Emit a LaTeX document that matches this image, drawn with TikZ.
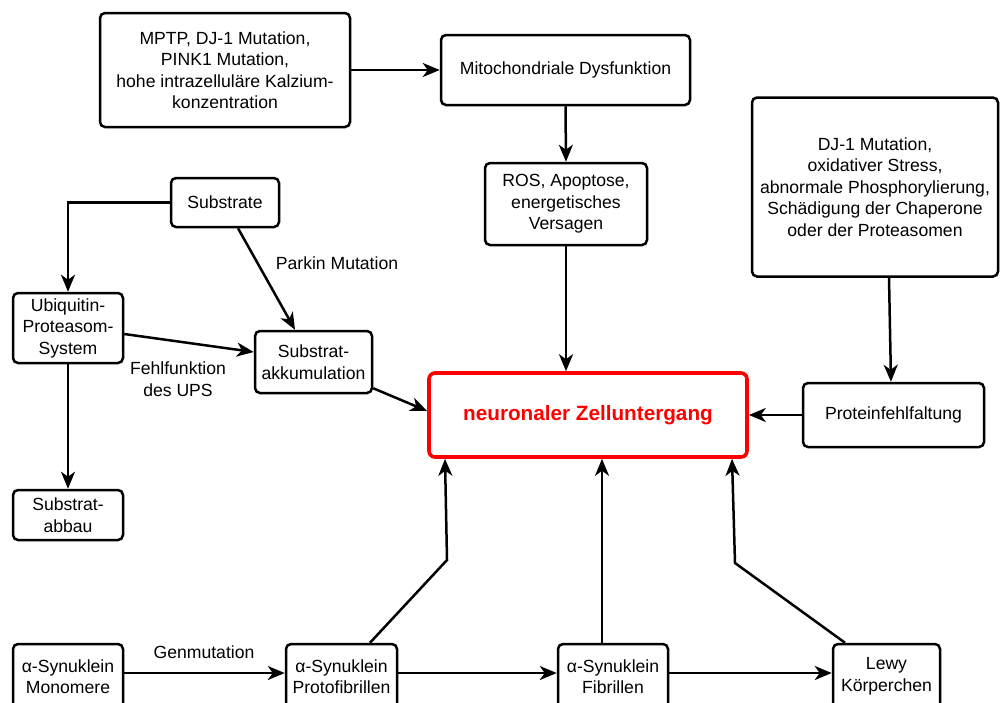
\documentclass[tikz,border=0pt]{standalone}
\usepackage{fontspec}
\setmainfont{Liberation Sans}
\usetikzlibrary{arrows.meta}
\begin{document}
\begin{tikzpicture}[x=1pt,y=-1pt,
  box/.style={draw=black, line width=2.5pt, rounded corners=5pt, fill=white,
    align=center, inner sep=0pt, font=\fontsize{17.6}{21.5}\selectfont},
  mainbox/.style={draw=red, line width=3.6pt, rounded corners=6pt, fill=white,
    align=center, inner sep=0pt, text=red, font=\fontsize{20.7}{24}\selectfont\bfseries},
  lbl/.style={align=center, inner sep=0pt, font=\fontsize{17.6}{21.5}\selectfont},
  conn/.style={line width=2.5pt, -{Stealth[length=17pt,width=14pt,inset=5pt]}}
]
\clip (0,0) rectangle (1000,702);
\fill[white] (0,0) rectangle (1000,702);

\node[box, minimum width=250pt, minimum height=114pt] (mptp) at (225,70)
  {MPTP, DJ-1 Mutation,\\PINK1 Mutation,\\hohe intrazelluläre Kalzium-\\konzentration};
\node[box, minimum width=249pt, minimum height=70pt] (mito) at (565.5,70) {Mitochondriale Dysfunktion};
\node[box, minimum width=162pt, minimum height=82pt] (ros) at (566,204) {ROS, Apoptose,\\energetisches\\Versagen};
\node[box, minimum width=246pt, minimum height=179pt] (dj1) at (875,187)
  {DJ-1 Mutation,\\oxidativer Stress,\\abnormale Phosphorylierung,\\Schädigung der Chaperone\\oder der Proteasomen};
\node[box, minimum width=181pt, minimum height=64pt] (protein) at (893.5,415) {Proteinfehlfaltung};
\node[mainbox, minimum width=318pt, minimum height=84pt] (neuro) at (588,415) {neuronaler Zelluntergang};
\node[box, minimum width=108pt, minimum height=49pt] (substrate) at (225,202.5) {Substrate};
\node[box, minimum width=110pt, minimum height=70pt] (ubiq) at (68,328) {Ubiquitin-\\Proteasom-\\System};
\node[box, minimum width=117pt, minimum height=62pt] (sakk) at (313.5,362) {Substrat-\\akkumulation};
\node[box, minimum width=110pt, minimum height=50pt] (sabbau) at (68,515) {Substrat-\\abbau};
\node[box, minimum width=110pt, minimum height=65pt] (mono) at (68,676.5) {α-Synuklein\\Monomere};
\node[box, minimum width=111pt, minimum height=65pt] (proto) at (341.5,676.5) {α-Synuklein\\Protofibrillen};
\node[box, minimum width=110pt, minimum height=65pt] (fibr) at (613,676.5) {α-Synuklein\\Fibrillen};
\node[box, minimum width=107pt, minimum height=65pt] (lewy) at (886.5,676.5) {Lewy\\Körperchen};

\node[lbl] (parkin) at (337,263) {Parkin Mutation};
\node[lbl] (fehl) at (178,379) {Fehlfunktion\\des UPS};
\node[lbl] (gen) at (204,652) {Genmutation};

\coordinate (k1) at (447,560);
\coordinate (k2) at (735,563);

\draw[conn] (mptp.east) -- (mito.west);
\draw[conn] (mito.south) -- (ros.north);
\draw[conn] (ros.south) -- (ros.south |- neuro.north);
\draw[conn] ([xshift=14pt]dj1.south) -- ([xshift=-2.5pt]protein.north);
\draw[conn] (protein.west) -- (protein.west -| neuro.east);
\draw[conn] (substrate.west) -| (ubiq.north);
\draw[conn] ([xshift=13pt]substrate.south) -- ([xshift=-18.5pt]sakk.north);
\draw[conn] ([yshift=-6pt]ubiq.east) -- ([yshift=10pt]sakk.west);
\draw[conn] ([yshift=6pt]sakk.south east) -- ([yshift=4pt]neuro.west);
\draw[conn] (ubiq.south) -- (sabbau.north);
\draw[conn] ([yshift=3.5pt]mono.east) -- ([yshift=3.5pt]proto.west);
\draw[conn] ([yshift=3.5pt]proto.east) -- ([yshift=3.5pt]fibr.west);
\draw[conn] ([yshift=3.5pt]fibr.east) -- ([yshift=3.5pt]lewy.west);
\draw[conn] ([xshift=28.5pt]proto.north) -- (k1) -- ([xshift=-143pt]neuro.south);
\draw[conn] ([xshift=-11pt]fibr.north) -- ([xshift=14pt]neuro.south);
\draw[conn] ([xshift=-41.5pt]lewy.north) -- (k2) -- ([xshift=144pt]neuro.south);
\end{tikzpicture}
\end{document}
